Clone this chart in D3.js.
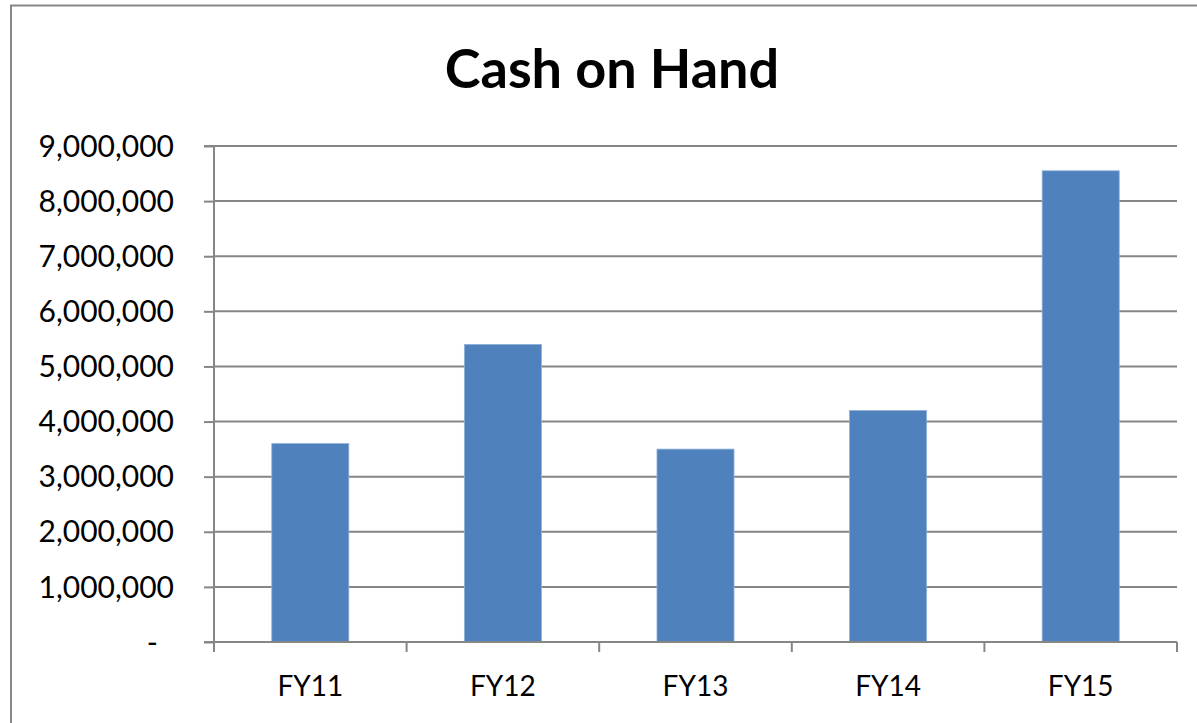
<!DOCTYPE html>
<html>
<head>
<meta charset="utf-8">
<script src="https://cdn.jsdelivr.net/npm/d3@7/dist/d3.min.js"></script>
<style>
  html, body { margin: 0; padding: 0; background: #ffffff; }
  svg { display: block; }
  text { font-family: Lato, "Open Sans", sans-serif; fill: #000; }
</style>
</head>
<body>
<svg id="chart" width="1197" height="723"></svg>
<script>
const title = "Cash on Hand";
const categories = ["FY11", "FY12", "FY13", "FY14", "FY15"];
const values = [3600000, 5400000, 3500000, 4200000, 8550000];
const yTicks = [0, 1000000, 2000000, 3000000, 4000000, 5000000, 6000000, 7000000, 8000000, 9000000];

const svg = d3.select("#chart");
const W = 1197, H = 723;
const plot = { left: 214, right: 1177, top: 146, bottom: 642 };

// outer chart border (extends past the right/bottom edges)
svg.append("rect")
  .attr("x", 11).attr("y", 5.5)
  .attr("width", W + 20).attr("height", H + 20)
  .attr("fill", "#fff").attr("stroke", "#878787").attr("stroke-width", 2);

svg.append("text")
  .attr("x", 612).attr("y", 88)
  .attr("text-anchor", "middle")
  .style("font-weight", "bold").style("font-size", "54px")
  .text(title);

const x = d3.scaleBand().domain(categories)
  .range([plot.left, plot.right]).paddingInner(0.6).paddingOuter(0.3);
const y = d3.scaleLinear().domain([0, 9000000]).range([plot.bottom, plot.top]);

const gridColor = "#868686";

// gridlines
svg.append("g").selectAll("line").data(yTicks.filter(d => d > 0)).join("line")
  .attr("x1", plot.left).attr("x2", plot.right)
  .attr("y1", d => y(d)).attr("y2", d => y(d))
  .attr("stroke", gridColor).attr("stroke-width", 2);

// bars
svg.append("g").selectAll("rect").data(values).join("rect")
  .attr("x", (d, i) => x(categories[i]))
  .attr("y", d => y(d))
  .attr("width", x.bandwidth())
  .attr("height", d => y(0) - y(d))
  .attr("fill", "#4F81BD")
  .attr("stroke", "#8fb0d8").attr("stroke-width", 0.8);

// y axis
const fmt = d3.format(",");
const yAxis = d3.axisLeft(y).tickValues(yTicks).tickSize(10).tickPadding(30)
  .tickFormat(d => d === 0 ? "-" : fmt(d));
const gy = svg.append("g").attr("transform", `translate(${plot.left},0)`).call(yAxis);
gy.select(".domain").attr("stroke", gridColor).attr("stroke-width", 2)
  .attr("d", `M-10,${plot.top}H0V${plot.bottom}`);
gy.selectAll(".tick line").attr("stroke", gridColor).attr("stroke-width", 2);
gy.selectAll(".tick text")
  .style("font-size", "30px").style("font-family", "Lato, sans-serif").attr("fill", "#000")
  .attr("dy", "0.34em")
  .attr("x", d => d === 0 ? -56 : -40);

// x axis: line + boundary ticks
const boundaries = d3.range(categories.length + 1).map(i => plot.left + i * x.step());
svg.append("line")
  .attr("x1", plot.left - 10).attr("x2", plot.right)
  .attr("y1", plot.bottom).attr("y2", plot.bottom)
  .attr("stroke", gridColor).attr("stroke-width", 2);
svg.append("g").selectAll("line").data(boundaries).join("line")
  .attr("x1", d => d).attr("x2", d => d)
  .attr("y1", plot.bottom).attr("y2", plot.bottom + 10)
  .attr("stroke", gridColor).attr("stroke-width", 2);
svg.append("g").selectAll("text").data(categories).join("text")
  .attr("x", d => x(d) + x.bandwidth() / 2)
  .attr("y", 696)
  .attr("text-anchor", "middle")
  .style("font-size", "28px")
  .text(d => d);
</script>
</body>
</html>
